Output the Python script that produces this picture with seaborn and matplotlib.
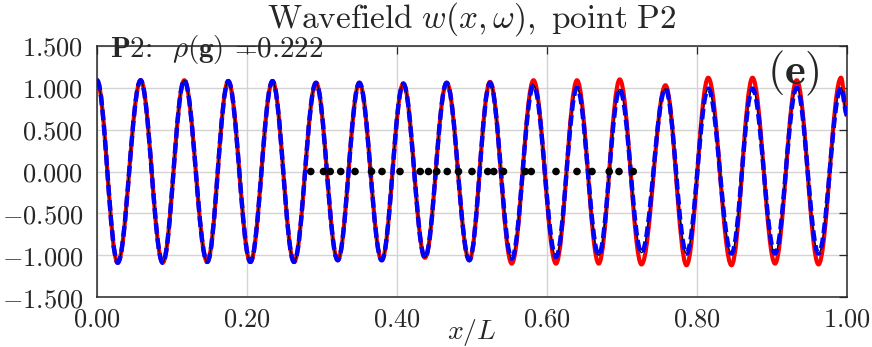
import matplotlib
matplotlib.use("Agg")
import matplotlib.pyplot as plt
from matplotlib.path import Path
from matplotlib.patches import PathPatch
from matplotlib.ticker import FixedLocator, FuncFormatter
import pandas as pd
import seaborn as sns

# ---- data ----
# positions (x/L) of the successive extrema of the wavefield (plus both ends)
ext_x = [0.000, 0.0276, 0.0582, 0.0876, 0.1164, 0.147, 0.175, 0.2045, 0.234,
         0.2627, 0.292, 0.321, 0.3498, 0.3796, 0.4084, 0.4373, 0.4662, 0.4964,
         0.524, 0.553, 0.582, 0.612, 0.640, 0.669, 0.697, 0.726, 0.758, 0.786,
         0.815, 0.846, 0.874, 0.904, 0.933, 0.962, 0.992, 1.000]
# red (solid) curve values at those extrema
red_y = [1.09, -1.09, 1.09, -1.09, 1.09, -1.08, 1.08, -1.08, 1.08,
         -1.08, 1.06, -1.06, 1.06, -1.06, 1.05, -1.03, 1.06, -1.06,
         1.07, -1.10, 1.09, -1.10, 1.09, -1.10, 1.10, -1.11, 1.03, -1.12,
         1.12, -1.12, 1.12, -1.10, 1.09, -1.11, 1.12, 0.67]
# blue (dashed) curve values at those extrema
blue_y = [1.09, -1.09, 1.09, -1.09, 1.09, -1.08, 1.08, -1.08, 1.08,
          -1.08, 1.06, -1.06, 1.06, -1.06, 1.05, -1.03, 1.06, -1.06,
          1.06, -1.04, 1.03, -1.02, 1.00, -1.00, 0.98, -0.97, 0.99, -0.98,
          0.99, -0.98, 0.99, -0.98, 1.00, -0.98, 1.00, 0.68]
# thin black reference curve (follows the blue one)
black_y = list(blue_y)

# black sensor dots on the zero line
dots_x = [0.285, 0.302, 0.311, 0.325, 0.344, 0.366, 0.380, 0.404, 0.431,
          0.442, 0.453, 0.467, 0.482, 0.500, 0.521, 0.529, 0.542, 0.571,
          0.579, 0.612, 0.640, 0.660, 0.683, 0.696, 0.715]
dots_y = [0.0] * len(dots_x)

x_ticks = [0.0, 0.2, 0.4, 0.6, 0.8, 1.0]
y_ticks = [-1.5, -1.0, -0.5, 0.0, 0.5, 1.0, 1.5]
title_text = r"$\mathrm{Wavefield}\ w(x,\omega),\ \mathrm{point\ P2}$"
info_text = r"$\mathbf{P2}$:  $\rho(\mathbf{g})$ =0.222"
panel_text = r"$\mathbf{(e)}$"
xlabel_text = r"$x/L$"

# ---- style ----
sns.set_style("white")
plt.rcParams["mathtext.fontset"] = "cm"
plt.rcParams["font.family"] = ["DejaVu Serif"]
plt.rcParams["axes.unicode_minus"] = True

fig = plt.figure(figsize=(8.72, 3.47), dpi=100)
ax = fig.add_axes([97 / 872, 50 / 347, 750 / 872, 251 / 347])


def smooth_path(xs, ys, k=0.3634):
    verts = [(xs[0], ys[0])]
    codes = [Path.MOVETO]
    for i in range(len(xs) - 1):
        dx = xs[i + 1] - xs[i]
        verts += [(xs[i] + k * dx, ys[i]), (xs[i + 1] - k * dx, ys[i + 1]),
                  (xs[i + 1], ys[i + 1])]
        codes += [Path.CURVE4] * 3
    return Path(verts, codes)


ax.add_patch(PathPatch(smooth_path(ext_x, red_y), facecolor="none",
                       edgecolor=(1, 0, 0), lw=3.0, zorder=3,
                       transform=ax.transData))
ax.add_patch(PathPatch(smooth_path(ext_x, black_y), facecolor="none",
                       edgecolor="black", lw=0.9, zorder=4,
                       transform=ax.transData))
ax.add_patch(PathPatch(smooth_path(ext_x, blue_y), facecolor="none",
                       edgecolor=(0, 0, 1), lw=3.2, zorder=5,
                       linestyle=(0, (2.4, 1.0)), capstyle="butt",
                       transform=ax.transData))

dots = pd.DataFrame({"x": dots_x, "y": dots_y})
sns.scatterplot(data=dots, x="x", y="y", ax=ax, color="black", s=30,
                edgecolor="none", zorder=6)

ax.set_xlim(0, 1)
ax.set_ylim(-1.5, 1.5)
ax.xaxis.set_major_locator(FixedLocator(x_ticks))
ax.yaxis.set_major_locator(FixedLocator(y_ticks))
ax.xaxis.set_major_formatter(FuncFormatter(lambda v, p: f"${v:.2f}$"))
ax.yaxis.set_major_formatter(FuncFormatter(lambda v, p: f"${v:.3f}$"))
ax.grid(True, color="#d4d4d4", lw=1.0, zorder=0)
ax.set_axisbelow(True)
for s in ax.spines.values():
    s.set_color("#262626")
    s.set_linewidth(1.1)
ax.tick_params(direction="in", length=5.5, width=0.9, colors="#262626",
               top=True, right=True, labelsize=19)
ax.tick_params(axis="y", pad=10)
ax.tick_params(axis="x", pad=7)

ax.set_xlabel(xlabel_text, fontsize=20)
ax.xaxis.set_label_coords(0.5, -0.14)
ax.xaxis.label.set_va("center")
ax.set_ylabel("")
ax.set_title(title_text, fontsize=24, pad=13)

ax.text(0.017, 0.956, info_text, transform=ax.transAxes, fontsize=21,
        va="baseline", ha="left", zorder=7, family=["cmr10"])
ax.text(0.928, 0.892, panel_text, transform=ax.transAxes, fontsize=32,
        va="center", ha="center", zorder=7)

fig.savefig("out.png", dpi=100)
